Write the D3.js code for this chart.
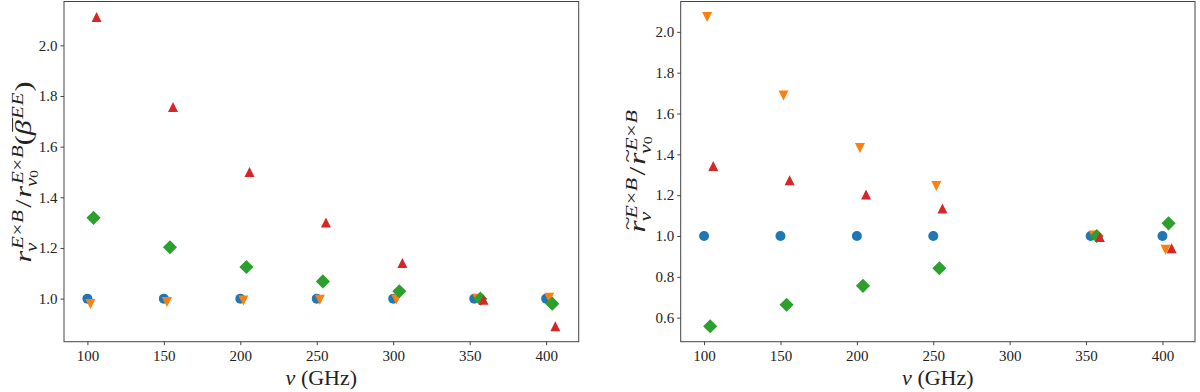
<!DOCTYPE html>
<meta charset="utf-8">
<script src="https://cdn.jsdelivr.net/npm/d3@7"></script>
<style>
  body { margin: 0; background: #fff; }
  svg { display: block; font-family: "Liberation Serif", "DejaVu Serif", serif; }
  .tick text { font-family: "Liberation Serif", serif; font-size: 15px; fill: #222; }
</style>
<body>
<svg id="fig" width="1200" height="392"></svg>
<script>
// ---- data ----
// left panel: r_nu / r_nu0 (beta EE)
const leftBlueX   = [100, 150, 200, 250, 300, 353, 400];
const leftBlueY   = [1.0, 1.0, 1.0, 1.0, 1.0, 1.0, 1.0];
const leftOrangeX = [102, 152, 202, 252, 302, 355, 402];
const leftOrangeY = [0.979, 0.987, 0.993, 0.996, 0.997, 1.0, 1.003];
const leftGreenX  = [104, 154, 204, 254, 304, 357, 404];
const leftGreenY  = [1.319, 1.203, 1.125, 1.068, 1.029, 1.0, 0.98];
const leftRedX    = [106, 156, 206, 256, 306, 359, 406];
const leftRedY    = [2.112, 1.757, 1.5, 1.301, 1.141, 0.996, 0.891];

// right panel: r~_nu / r~_nu0
const rightBlueX   = [100, 150, 200, 250, 353, 400];
const rightBlueY   = [1.0, 1.0, 1.0, 1.0, 1.0, 1.0];
const rightOrangeX = [102, 152, 202, 252, 355, 402];
const rightOrangeY = [2.073, 1.688, 1.431, 1.245, 1.003, 0.933];
const rightGreenX  = [104, 154, 204, 254, 357, 404];
const rightGreenY  = [0.558, 0.663, 0.756, 0.842, 1.0, 1.062];
const rightRedX    = [106, 156, 206, 256, 359, 406];
const rightRedY    = [1.343, 1.273, 1.203, 1.135, 0.995, 0.94];

const xTicks = [100, 150, 200, 250, 300, 350, 400];
const leftYTicks = [1.0, 1.2, 1.4, 1.6, 1.8, 2.0];
const rightYTicks = [0.6, 0.8, 1.0, 1.2, 1.4, 1.6, 1.8, 2.0];

const colors = { blue: "#1f77b4", orange: "#ff7f0e", green: "#2ca02c", red: "#d62728" };

// matplotlib-like markers, size = marker width in px
const ms = 10;
const symCircle = { draw(c, s) { c.moveTo(s / 2, 0); c.arc(0, 0, s / 2, 0, 2 * Math.PI); } };
const symUp = { draw(c, s) { const h = s / 2; c.moveTo(0, -h); c.lineTo(h, h); c.lineTo(-h, h); c.closePath(); } };
const symDown = { draw(c, s) { const h = s / 2; c.moveTo(0, h); c.lineTo(h, -h); c.lineTo(-h, -h); c.closePath(); } };
const symDiamond = { draw(c, s) { const h = s * Math.SQRT2 / 2; c.moveTo(0, -h); c.lineTo(h, 0); c.lineTo(0, h); c.lineTo(-h, 0); c.closePath(); } };

const svg = d3.select("#fig");

function pad(ext) { const r = ext[1] - ext[0]; return [ext[0] - 0.05 * r, ext[1] + 0.05 * r]; }

function drawPanel(box, series, yTicks) {
  const allX = series.flatMap(s => s.x), allY = series.flatMap(s => s.y);
  const x = d3.scaleLinear().domain(pad(d3.extent(allX))).range([box.l, box.r]);
  const y = d3.scaleLinear().domain(pad(d3.extent(allY))).range([box.b, box.t]);
  const g = svg.append("g");

  g.append("g").attr("transform", `translate(0,${box.b})`)
    .call(d3.axisBottom(x).tickValues(xTicks).tickSize(3.5).tickPadding(5).tickFormat(d3.format("d")))
    .call(a => a.select(".domain").remove())
    .call(a => a.selectAll("line").attr("stroke", "#444"));
  g.append("g").attr("transform", `translate(${box.l},0)`)
    .call(d3.axisLeft(y).tickValues(yTicks).tickSize(3.5).tickPadding(3).tickFormat(d3.format(".1f")))
    .call(a => a.select(".domain").remove())
    .call(a => a.selectAll("line").attr("stroke", "#444"));
  g.selectAll(".tick text").style("font-family", "'Liberation Serif', serif").style("font-size", "15px");

  g.append("rect").attr("x", box.l).attr("y", box.t)
    .attr("width", box.r - box.l).attr("height", box.b - box.t)
    .attr("fill", "none").attr("stroke", "#444").attr("stroke-width", 1);

  series.forEach(s => {
    g.append("g").selectAll("path").data(s.x.map((v, i) => [v, s.y[i]])).join("path")
      .attr("transform", d => `translate(${x(d[0])},${y(d[1])})`)
      .attr("d", d3.symbol().type(s.sym).size(ms))
      .attr("fill", s.color);
  });

  // x label
  const xl = g.append("text").attr("x", (box.l + box.r) / 2).attr("y", 385)
    .attr("text-anchor", "middle").style("font-size", "22px").attr("fill", "#222");
  xl.append("tspan").text("ν").style("font-style", "italic");
  xl.append("tspan").text(" (GHz)");
  return g;
}

// --- simple math-ish label layout (rotated) ---
function textPiece(parent, x, y, parts, fs) {
  const t = parent.append("text").attr("x", x).attr("y", y).style("font-size", fs + "px").attr("fill", "#222");
  let acc = 0;
  parts.forEach(p => {
    const k = p.k || 1;
    const sp = t.append("tspan").text(p.s)
      .style("font-style", p.it ? "italic" : "normal")
      .style("font-size", fs * k + "px");
    if (p.dx) sp.attr("dx", p.dx * fs);
    const dy = (p.dy || 0) * fs;
    if (dy - acc !== 0) sp.attr("dy", dy - acc);
    acc = dy;
  });
  return t.node().getComputedTextLength();
}

function mathLabel(cx, cy, items, fs, len) {
  const outer = svg.append("g").attr("transform", `translate(${cx},${cy}) rotate(-90)`);
  const g = outer.append("g");
  let x = 0;
  items.forEach(it => {
    if (it.base) {
      const x0 = x + (it.pre || 0) * fs;
      const w = textPiece(g, x0, 0, it.base, fs);
      if (it.tilde) {
        g.append("text").attr("x", x0 + w / 2 + 0.1 * fs).attr("y", -0.5 * fs)
          .attr("text-anchor", "middle").style("font-size", fs * 0.8 + "px").attr("fill", "#222").text("~");
      }
      if (it.bar) {
        g.append("line").attr("x1", x0 + 0.12 * fs).attr("x2", x0 + w + 0.08 * fs)
          .attr("y1", -0.8 * fs).attr("y2", -0.8 * fs).attr("stroke", "#222").attr("stroke-width", fs * 0.045);
      }
      x = x0 + w + (it.post || 0) * fs;
    } else {
      const sfs = fs * 0.7;
      let w1 = 0, w2 = 0;
      if (it.sup) w1 = textPiece(g, x + (it.supDx || 0) * fs, -0.36 * fs, it.sup, sfs) + (it.supDx || 0) * fs;
      if (it.sub) w2 = textPiece(g, x - 0.04 * fs, 0.24 * fs, it.sub, sfs);
      x += Math.max(w1, w2) + (it.post || 0) * fs;
    }
  });
  const k = len / x;
  g.attr("transform", `scale(${k},1) translate(${-x / 2},0)`);
}

const EB = [{ s: "E", it: 1 }, { s: "×", dx: 0.03 }, { s: "B", it: 1, dx: 0.03 }];
const nu0 = [{ s: "ν", it: 1 }, { s: "0", k: 0.72, dy: 0.12 }];

const leftBox = { l: 64, r: 578.7, t: 1.5, b: 341.7 };
const rightBox = { l: 680.7, r: 1195, t: 1.5, b: 341.7 };

drawPanel(leftBox, [
  { x: leftBlueX, y: leftBlueY, color: colors.blue, sym: symCircle },
  { x: leftOrangeX, y: leftOrangeY, color: colors.orange, sym: symDown },
  { x: leftGreenX, y: leftGreenY, color: colors.green, sym: symDiamond },
  { x: leftRedX, y: leftRedY, color: colors.red, sym: symUp }
], leftYTicks);

drawPanel(rightBox, [
  { x: rightBlueX, y: rightBlueY, color: colors.blue, sym: symCircle },
  { x: rightOrangeX, y: rightOrangeY, color: colors.orange, sym: symDown },
  { x: rightGreenX, y: rightGreenY, color: colors.green, sym: symDiamond },
  { x: rightRedX, y: rightRedY, color: colors.red, sym: symUp }
], rightYTicks);

const fsLab = 23;
mathLabel(31, 172, [
  { base: [{ s: "r", it: 1 }] },
  { sup: EB, sub: [{ s: "ν", it: 1 }], supDx: 0.06, post: 0.12 },
  { base: [{ s: "/" }], post: 0.06 },
  { base: [{ s: "r", it: 1 }] },
  { sup: EB, sub: nu0, supDx: 0.06, post: 0.04 },
  { base: [{ s: "(" }] },
  { base: [{ s: "β", it: 1 }], bar: true },
  { sup: [{ s: "E", it: 1 }, { s: "E", it: 1, dx: 0.03 }], supDx: 0.04, post: 0.06 },
  { base: [{ s: ")" }] }
], fsLab, 181);

mathLabel(645, 172, [
  { base: [{ s: "r", it: 1 }], tilde: true },
  { sup: EB, sub: [{ s: "ν", it: 1 }], supDx: 0.06, post: 0.12 },
  { base: [{ s: "/" }], post: 0.06 },
  { base: [{ s: "r", it: 1 }], tilde: true },
  { sup: EB, sub: nu0, supDx: 0.06 }
], fsLab, 121);
</script>
</body>
